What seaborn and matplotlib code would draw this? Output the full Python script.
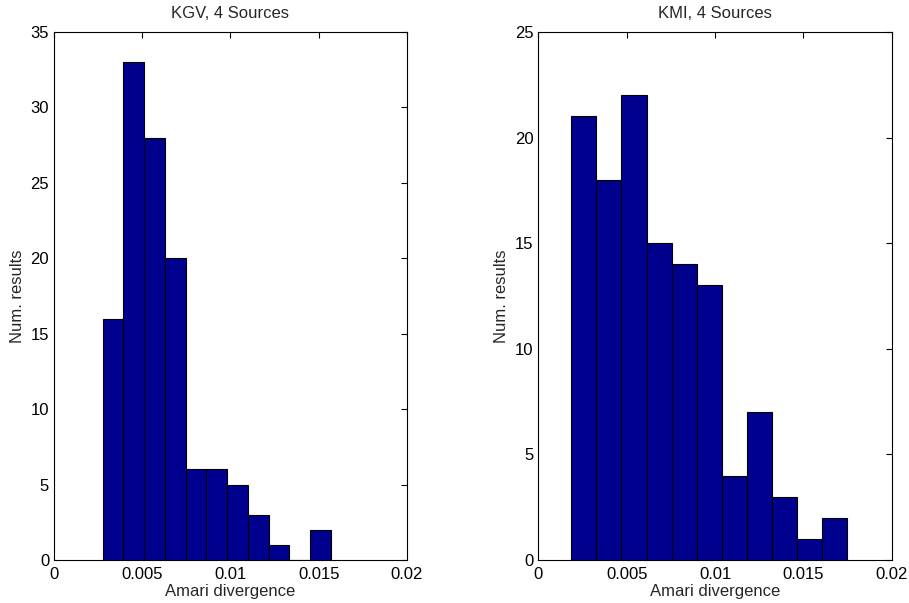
import numpy as np
import pandas as pd
import matplotlib
matplotlib.use('Agg')
import matplotlib.pyplot as plt
import seaborn as sns

sns.set_style('white')
plt.rcParams['font.family'] = ['Liberation Sans', 'DejaVu Sans']
plt.rcParams['font.size'] = 12

# counts per bin
kgv_counts = [16, 33, 28, 20, 6, 6, 5, 3, 1, 0, 2]
kmi_counts = [21, 18, 22, 15, 14, 13, 4, 7, 3, 1, 2]

# bin layout (start, width) for each panel
kgv_bins = (0.00276, 0.001175)
kmi_bins = (0.00187, 0.001418)

xticks = [0, 0.005, 0.01, 0.015, 0.02]
xticklabels = ['0', '0.005', '0.01', '0.015', '0.02']

panels = [
    ('KGV, 4 Sources', kgv_counts, kgv_bins, 35),
    ('KMI, 4 Sources', kmi_counts, kmi_bins, 25),
]

fig = plt.figure(figsize=(9.09, 6.03), dpi=100)
axes = [fig.add_axes([0.0594, 0.0713, 0.3883, 0.8757]),
        fig.add_axes([0.5922, 0.0713, 0.3889, 0.8757])]

for ax, (title, counts, (start, width), ymax) in zip(axes, panels):
    edges = [float(e) for e in start + width * np.arange(len(counts) + 1)]
    centers = [(a + b) / 2 for a, b in zip(edges[:-1], edges[1:])]
    df = pd.DataFrame({'x': centers, 'n': counts})
    sns.histplot(data=df, x='x', weights='n', bins=edges, ax=ax,
                 color='#00008F', edgecolor='black', linewidth=0.8, alpha=1)
    ax.set_xlim(0, 0.02)
    ax.set_ylim(0, ymax)
    ax.set_xticks(xticks)
    ax.set_xticklabels(xticklabels)
    ax.set_yticks(range(0, ymax + 1, 5))
    ax.tick_params(direction='in', length=4.5, width=0.8, top=True, right=True,
                   labelsize=12, colors='black')
    ax.tick_params(axis='x', pad=5)
    ax.tick_params(axis='y', pad=3.5)
    for s in ax.spines.values():
        s.set_color('black')
        s.set_linewidth(0.8)
    ax.set_title(title, fontsize=12, pad=10)
    ax.set_xlabel('Amari divergence', fontsize=12, labelpad=1.5)
    ax.set_ylabel('Num. results', fontsize=12, labelpad=4)

plt.savefig('out.png', dpi=100)
